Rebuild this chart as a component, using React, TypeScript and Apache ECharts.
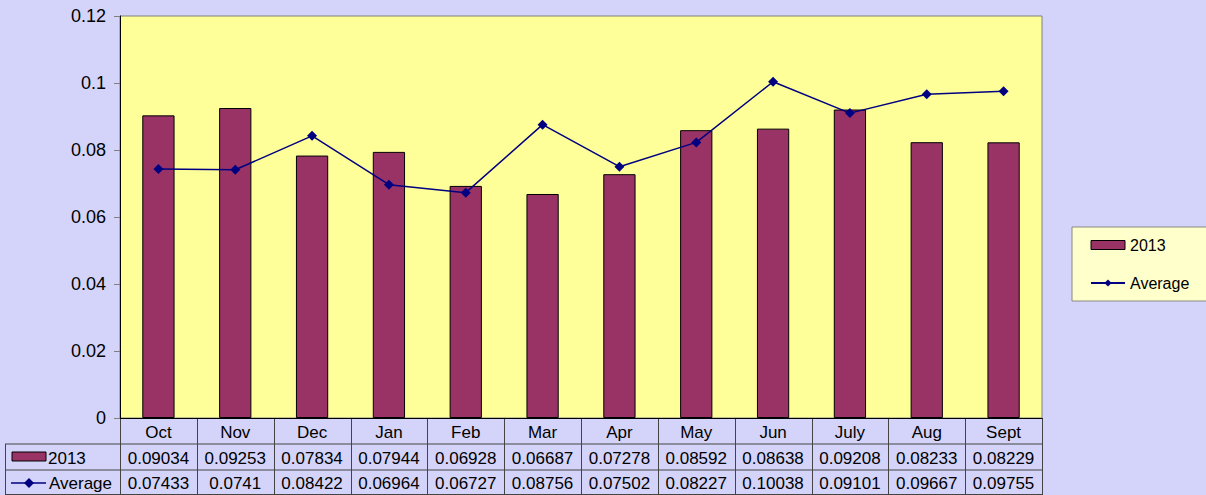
import React, { useEffect, useRef } from "react";
import * as echarts from "echarts";

const categories = ["Oct", "Nov", "Dec", "Jan", "Feb", "Mar", "Apr", "May", "Jun", "July", "Aug", "Sept"];
const values2013 = [0.09034, 0.09253, 0.07834, 0.07944, 0.06928, 0.06687, 0.07278, 0.08592, 0.08638, 0.09208, 0.08233, 0.08229];
const valuesAverage = [0.07433, 0.0741, 0.08422, 0.06964, 0.06727, 0.08756, 0.07502, 0.08227, 0.10038, 0.09101, 0.09667, 0.09755];
const seriesNames = ["2013", "Average"];

const W = 1206;
const H = 495;
const PL = 120;
const PR = 1042;
const PT = 16;
const PB = 418;
const FONT = "'Liberation Sans', Arial, sans-serif";
const BAR = "#993366";
const LINE = "#000080";

export default function App() {
  const ref = useRef<HTMLDivElement>(null);
  useEffect(() => {
    document.body.style.margin = "0";
    const chart = echarts.init(ref.current!, null, { renderer: "svg" });
    const colW = (PR - PL) / categories.length;
    const rowH = [PB, 444, 470, 495];
    const g: any[] = [];
    const lineStyle = { stroke: "#444", lineWidth: 1 };
    g.push({ type: "line", shape: { x1: 5, y1: 444, x2: PR, y2: 444 }, style: lineStyle });
    g.push({ type: "line", shape: { x1: 5, y1: 470, x2: PR, y2: 470 }, style: lineStyle });
    g.push({ type: "line", shape: { x1: 5, y1: 494.5, x2: PR, y2: 494.5 }, style: lineStyle });
    g.push({ type: "line", shape: { x1: 5.5, y1: 444, x2: 5.5, y2: 495 }, style: lineStyle });
    for (let i = 0; i <= categories.length; i++) {
      const x = Math.round(PL + i * colW) + 0.5;
      g.push({ type: "line", shape: { x1: x, y1: PB, x2: x, y2: 495 }, style: lineStyle });
    }
    categories.forEach((c, i) => {
      const cx = PL + i * colW + colW / 2;
      g.push({ type: "text", x: cx, y: (rowH[0] + rowH[1]) / 2 + 1, style: { text: c, font: `17px ${FONT}`, fill: "#000", align: "center", verticalAlign: "middle" } });
      g.push({ type: "text", x: cx, y: (rowH[1] + rowH[2]) / 2 + 1, style: { text: String(values2013[i]), font: `17px ${FONT}`, fill: "#000", align: "center", verticalAlign: "middle" } });
      g.push({ type: "text", x: cx, y: (rowH[2] + rowH[3]) / 2 + 1, style: { text: String(valuesAverage[i]), font: `17px ${FONT}`, fill: "#000", align: "center", verticalAlign: "middle" } });
    });
    g.push({ type: "rect", shape: { x: 12, y: 452, width: 34, height: 9 }, style: { fill: BAR, stroke: "#000", lineWidth: 1 } });
    g.push({ type: "text", x: 48, y: 458, style: { text: seriesNames[0], font: `17px ${FONT}`, fill: "#000", verticalAlign: "middle" } });
    g.push({ type: "line", shape: { x1: 11, y1: 483, x2: 46, y2: 483 }, style: { stroke: LINE, lineWidth: 1.5 } });
    g.push({ type: "polygon", shape: { points: [[29, 478], [34, 483], [29, 488], [24, 483]] }, style: { fill: LINE } });
    g.push({ type: "text", x: 49, y: 483, style: { text: seriesNames[1], font: `17px ${FONT}`, fill: "#000", verticalAlign: "middle" } });

    chart.setOption({
      animation: false,
      backgroundColor: "#d4d4fa",
      textStyle: { fontFamily: FONT },
      grid: {
        left: PL, right: W - PR, top: PT, bottom: H - PB,
        show: true, backgroundColor: "#ffff99", borderColor: "#808080", borderWidth: 1,
      },
      legend: {
        orient: "vertical",
        left: 1072, top: 227,
        backgroundColor: "#ffffcc",
        borderColor: "#888",
        borderWidth: 1,
        borderRadius: 0,
        padding: [10, 18, 10, 18],
        itemWidth: 34,
        itemHeight: 9,
        itemGap: 22,
        textStyle: { fontSize: 16, color: "#000", fontFamily: FONT, lineHeight: 16 },
        data: [
          { name: seriesNames[0], icon: "rect", itemStyle: { color: BAR, borderColor: "#000", borderWidth: 1 } },
          { name: seriesNames[1] },
        ],
      },
      xAxis: {
        type: "category",
        data: categories,
        axisLabel: { show: false },
        axisTick: { show: false },
        axisLine: { lineStyle: { color: "#000", width: 1 } },
      },
      yAxis: {
        type: "value",
        min: 0, max: 0.12, interval: 0.02,
        axisLine: { show: true, lineStyle: { color: "#000", width: 1 } },
        axisTick: { show: true, length: 6, lineStyle: { color: "#808080" } },
        splitLine: { show: false },
        axisLabel: { fontSize: 18, color: "#000", fontFamily: FONT, margin: 14 },
      },
      series: [
        {
          name: seriesNames[0], type: "bar", data: values2013, barWidth: "42%",
          itemStyle: { color: BAR, borderColor: "#000", borderWidth: 1 },
        },
        {
          name: seriesNames[1], type: "line", data: valuesAverage,
          symbol: "diamond", symbolSize: 10,
          lineStyle: { color: LINE, width: 1.5 },
          itemStyle: { color: LINE },
        },
      ],
      graphic: g,
    });
    return () => chart.dispose();
  }, []);
  return <div ref={ref} style={{ width: W, height: H, position: "absolute", left: 0, top: 0 }} />;
}
